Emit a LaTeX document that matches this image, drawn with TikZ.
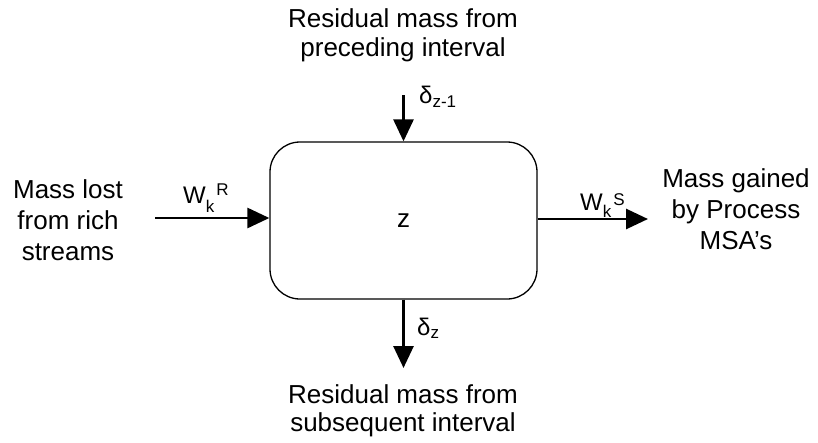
\documentclass[tikz,border=0pt]{standalone}
\usepackage{fontspec}
\setmainfont{Liberation Sans}
\usetikzlibrary{arrows.meta}
\newcommand{\lblsub}[2]{\raisebox{#1}{\fontsize{17}{17}\selectfont #2}}
\begin{document}
\begin{tikzpicture}[x=1pt,y=-1pt,
  txt/.style={font=\fontsize{26}{31}\selectfont, align=center, inner sep=0pt, anchor=north},
  lbl/.style={font=\fontsize{24}{24}\selectfont, inner sep=0pt, anchor=base west},
  flow/.style={line width=2.8pt, -{Triangle[length=22pt,width=20pt]}},
  block/.style={draw, line width=1.3pt, rounded corners=30pt, minimum width=267pt, minimum height=157pt, font=\fontsize{26}{26}\selectfont, inner sep=0pt}]
\useasboundingbox (0,0) rectangle (818,442);
\node[block] (box) at (403.5,220.5) {z};
% inputs / outputs
\coordinate (tin) at (403.5,95);
\coordinate (lin) at (155,218);
\coordinate (rout) at (648,219);
\coordinate (bout) at (403.5,368);
\draw[flow] (tin) -- (box.north);
\draw[flow] (lin) -- (lin -| box.west);
\draw[flow] (rout -| box.east) -- (rout);
\draw[flow] (box.south) -- (bout);
% texts
\node[txt, font=\fontsize{26}{29}\selectfont] (top) at (403,8) {Residual mass from\\preceding interval};
\node[txt] (left) at (68,179) {Mass lost\\from rich\\streams};
\node[txt] (right) at (736,168) {Mass gained\\by Process\\MSA’s};
\node[txt, font=\fontsize{26}{28}\selectfont] (bottom) at (403,384) {Residual mass from\\subsequent interval};
% labels
\node[lbl] (dzm) at (419,103) {δ\lblsub{-4pt}{z-1}};
\node[lbl] (wr) at (183,203) {W\lblsub{-9pt}{k}\kern2pt\lblsub{8pt}{R}};
\node[lbl] (ws) at (580,210) {W\lblsub{-7pt}{k}\kern2pt\lblsub{5pt}{S}};
\node[lbl] (dz) at (417,335) {δ\lblsub{-3pt}{z}};
\end{tikzpicture}
\end{document}
